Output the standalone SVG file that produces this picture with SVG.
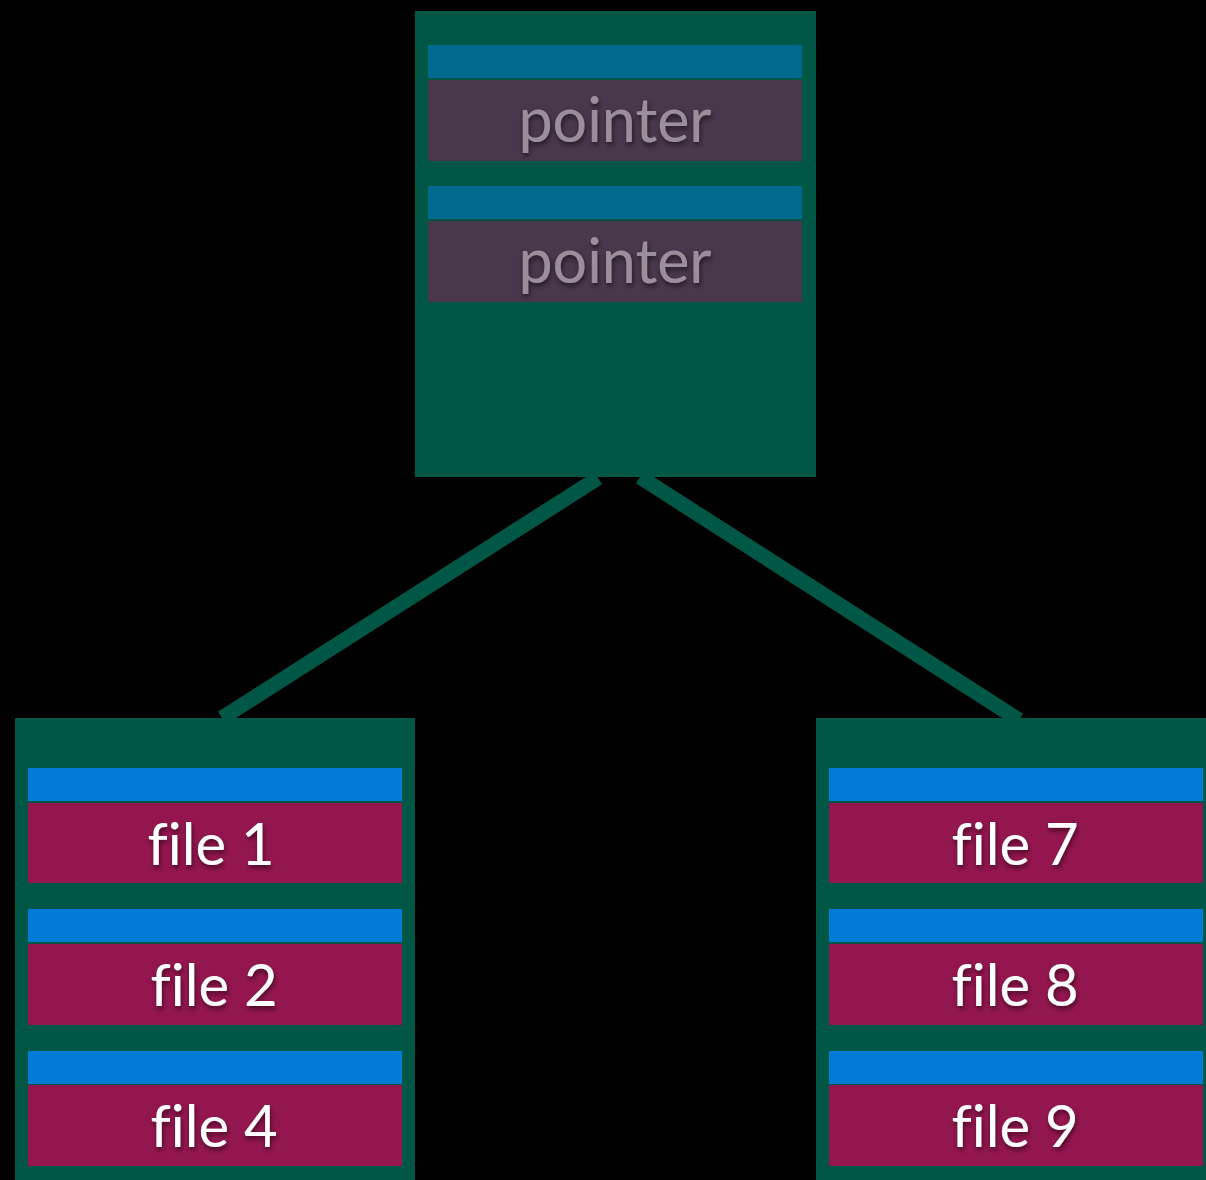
<svg xmlns="http://www.w3.org/2000/svg" width="1206" height="1180" viewBox="0 0 1206 1180">
  <defs>
    <filter id="sh" x="-20%" y="-30%" width="140%" height="160%">
      <feDropShadow dx="1" dy="3" stdDeviation="2.5" flood-color="#000" flood-opacity="0.55"/>
    </filter>
  </defs>
  <style>
    .box { fill: #005745; }
    .ptop { fill: #00698e; }
    .pbody { fill: #49374b; }
    .ftop { fill: #007bd6; }
    .fbody { fill: #94164f; }
    .conn { stroke: #005745; stroke-width: 15; stroke-linecap: butt; fill: none; }
    text { font-family: "Lato", "Open Sans", "Liberation Sans", sans-serif; font-size: 61px; text-anchor: middle; filter: url(#sh); font-variant-ligatures: none; font-feature-settings: "liga" 0; }
    .pt { fill: #9a8e9b; }
    .ft { fill: #ffffff; font-size: 58px; }
  </style>
  <rect width="1206" height="1180" fill="#000"/>
  <g id="connectors">
    <line class="conn" x1="598" y1="478" x2="222" y2="718"/>
    <line class="conn" x1="640" y1="477" x2="1019" y2="720"/>
  </g>
  <g id="root">
    <rect class="box" x="415" y="11" width="401" height="466"/>
    <rect class="ptop" x="428" y="45" width="374" height="33"/>
    <rect class="pbody" x="428" y="80" width="374" height="81"/>
    <text class="pt" x="615" y="142">pointer</text>
    <rect class="ptop" x="428" y="186" width="374" height="33"/>
    <rect class="pbody" x="428" y="221" width="374" height="81"/>
    <text class="pt" x="615" y="283">pointer</text>
  </g>
  <g id="leaf-left">
    <rect class="box" x="15" y="718" width="400" height="470"/>
    <rect class="ftop" x="28" y="768" width="374" height="33"/>
    <rect class="fbody" x="28" y="803" width="374" height="80"/>
    <text class="ft" x="211" y="865">file 1</text>
    <rect class="ftop" x="28" y="909" width="374" height="33"/>
    <rect class="fbody" x="28" y="944" width="374" height="81"/>
    <text class="ft" x="214" y="1006">file 2</text>
    <rect class="ftop" x="28" y="1051" width="374" height="33"/>
    <rect class="fbody" x="28" y="1085" width="374" height="81"/>
    <text class="ft" x="214" y="1147">file 4</text>
  </g>
  <g id="leaf-right">
    <rect class="box" x="816" y="718" width="400" height="470"/>
    <rect class="ftop" x="829" y="768" width="374" height="33"/>
    <rect class="fbody" x="829" y="803" width="374" height="80"/>
    <text class="ft" x="1015" y="865">file 7</text>
    <rect class="ftop" x="829" y="909" width="374" height="33"/>
    <rect class="fbody" x="829" y="944" width="374" height="81"/>
    <text class="ft" x="1015" y="1006">file 8</text>
    <rect class="ftop" x="829" y="1051" width="374" height="33"/>
    <rect class="fbody" x="829" y="1085" width="374" height="81"/>
    <text class="ft" x="1015" y="1147">file 9</text>
  </g>
</svg>
